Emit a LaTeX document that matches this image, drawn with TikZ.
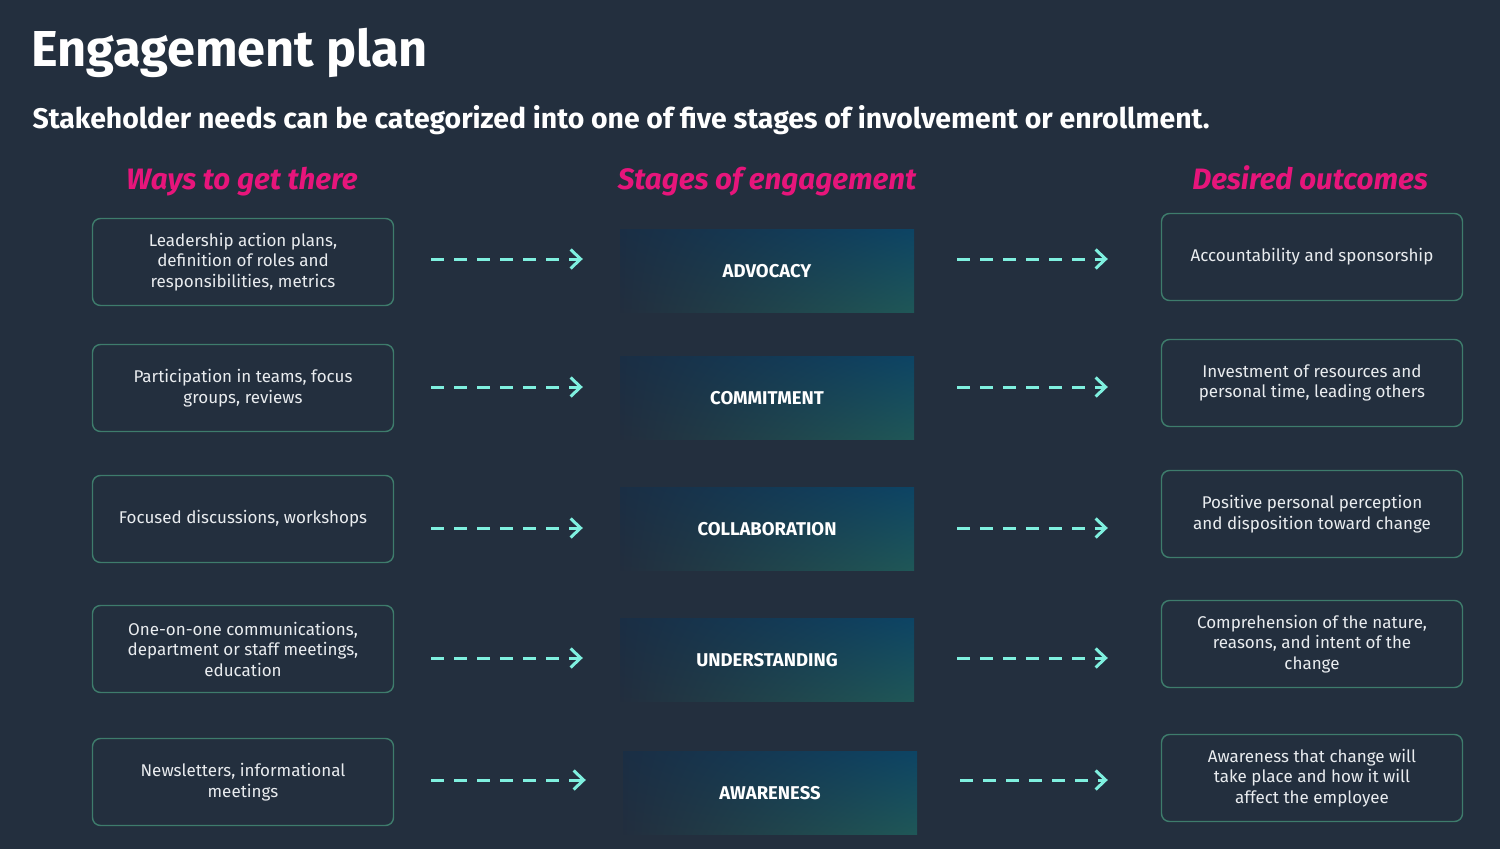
\documentclass[tikz,border=0pt]{standalone}
\usepackage{fontspec}
\setmainfont{Fira Sans}
\usetikzlibrary{arrows.meta}
\usetikzlibrary{shadings}
\definecolor{ink}{HTML}{232F3E}
\definecolor{flow}{HTML}{7FF0DF}
\definecolor{pink}{HTML}{E7157B}
\definecolor{rim}{HTML}{3E7C6C}
\definecolor{paper}{HTML}{E9ECEF}
\definecolor{stageTL}{HTML}{1A2E44}
\definecolor{stageTR}{HTML}{0D4464}
\definecolor{stageBL}{HTML}{222E3E}
\definecolor{stageBR}{HTML}{1F5757}

\begin{document}
\begin{tikzpicture}[x=1pt,y=-1pt,
    way/.style={draw=rim, line width=1.4pt, rounded corners=8pt,
        minimum width=301pt, minimum height=87pt, align=center,
        text=paper, font=\fontsize{17}{20.5}\selectfont},
    outcome/.style={way},
    stage/.style={minimum width=294pt, minimum height=83pt,
        upper left=stageTL, upper right=stageTR,
        lower left=stageBL, lower right=stageBR,
        text=white, font=\fontsize{18.5}{21}\selectfont\bfseries},
    heading/.style={anchor=base, text=pink,
        font=\fontsize{29.5}{33}\selectfont\bfseries\itshape},
    link/.style={draw=flow, line width=3pt, dash pattern=on 13pt off 10pt,
        -{Straight Barb[length=10pt,width=19pt]}}]
    \fill[ink] (0,0) rectangle (1500,849);

    \node[anchor=base west, text=white, font=\fontsize{50.5}{54}\selectfont\bfseries]
        (title) at (28,66) {Engagement plan};
    \node[anchor=base west, text=white, font=\fontsize{28.4}{32}\selectfont\bfseries]
        (lead) at (29,128) {Stakeholder needs can be categorized into one of five stages of involvement or enrollment.};

    \node[heading] (hways) at (242,189) {Ways to get there};
    \node[heading] (hstages) at (767,189) {Stages of engagement};
    \node[heading] (houts) at (1310,189) {Desired outcomes};

    \node[way] (w1) at (243,262) {Leadership action plans,\\definition of roles and\\responsibilities, metrics};
    \node[way] (w2) at (243,388) {Participation in teams, focus\\groups, reviews};
    \node[way] (w3) at (243,519) {Focused discussions, workshops};
    \node[way] (w4) at (243,649) {One-on-one communications,\\department or staff meetings,\\education};
    \node[way] (w5) at (243,782) {Newsletters, informational\\meetings};

    \node[stage] (s1) at (767,271) {ADVOCACY};
    \node[stage] (s2) at (767,398) {COMMITMENT};
    \node[stage] (s3) at (767,529) {COLLABORATION};
    \node[stage] (s4) at (767,660) {UNDERSTANDING};
    \node[stage] (s5) at (770,793) {AWARENESS};

    \node[outcome] (o1) at (1312,257) {Accountability and sponsorship};
    \node[outcome] (o2) at (1312,383) {Investment of resources and\\personal time, leading others};
    \node[outcome] (o3) at (1312,514) {Positive personal perception\\and disposition toward change};
    \node[outcome] (o4) at (1312,644) {Comprehension of the nature,\\reasons, and intent of the\\change};
    \node[outcome] (o5) at (1312,778) {Awareness that change will\\take place and how it will\\affect the employee};

    \foreach \i/\ay in {1/259,2/387,3/528,4/658,5/780} {
        \coordinate (y\i) at (0,\ay);
        \draw[link, shorten <=37pt, shorten >=37pt] (w\i.east |- y\i) -- (s\i.west |- y\i);
        \draw[link, shorten <=43pt, shorten >=53pt] (s\i.east |- y\i) -- (o\i.west |- y\i);
    }
\end{tikzpicture}
\end{document}
